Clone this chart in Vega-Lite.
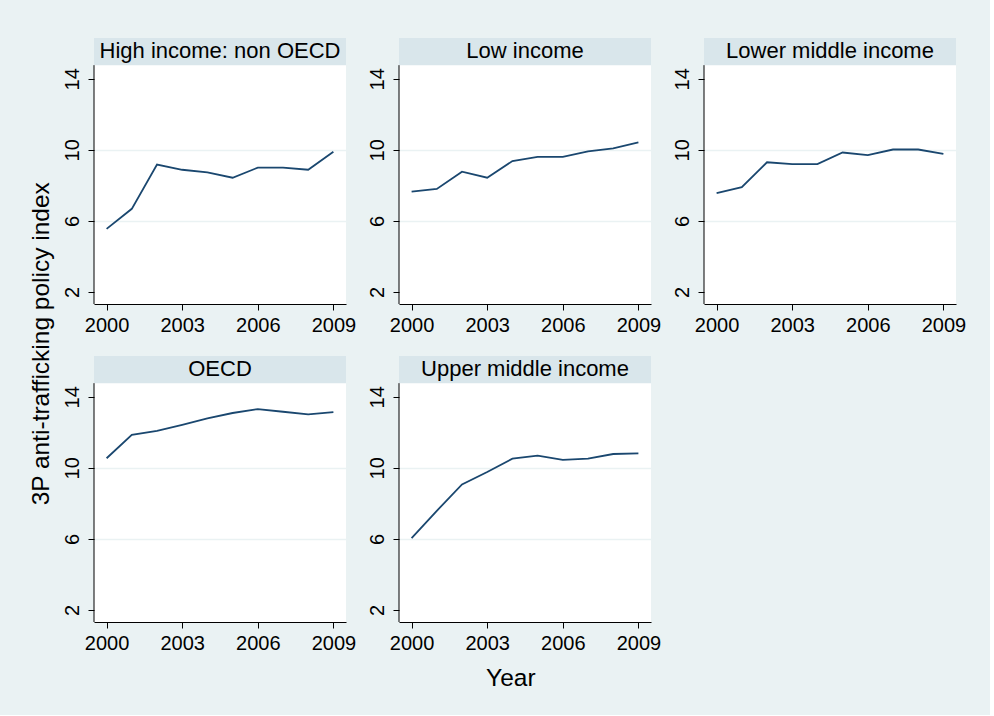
{
  "$schema": "https://vega.github.io/schema/vega-lite/v6.json",
  "background": "#EAF2F3",
  "padding": {"left": 28, "top": 37, "right": 24, "bottom": 24},
  "title": {"text": "3P anti-trafficking policy index", "orient": "left", "anchor": "middle", "fontSize": 24.5, "font": "Liberation Sans", "fontWeight": "normal", "color": "black", "offset": 8, "dx": 20},
  "data": {"values": [
    {"group": "High income: non OECD", "year": 2000, "value": 5.55},
    {"group": "High income: non OECD", "year": 2001, "value": 6.68},
    {"group": "High income: non OECD", "year": 2002, "value": 9.17},
    {"group": "High income: non OECD", "year": 2003, "value": 8.88},
    {"group": "High income: non OECD", "year": 2004, "value": 8.73},
    {"group": "High income: non OECD", "year": 2005, "value": 8.43},
    {"group": "High income: non OECD", "year": 2006, "value": 9.0},
    {"group": "High income: non OECD", "year": 2007, "value": 9.0},
    {"group": "High income: non OECD", "year": 2008, "value": 8.88},
    {"group": "High income: non OECD", "year": 2009, "value": 9.89},
    {"group": "Low income", "year": 2000, "value": 7.65},
    {"group": "Low income", "year": 2001, "value": 7.8},
    {"group": "Low income", "year": 2002, "value": 8.77},
    {"group": "Low income", "year": 2003, "value": 8.43},
    {"group": "Low income", "year": 2004, "value": 9.37},
    {"group": "Low income", "year": 2005, "value": 9.6},
    {"group": "Low income", "year": 2006, "value": 9.6},
    {"group": "Low income", "year": 2007, "value": 9.92},
    {"group": "Low income", "year": 2008, "value": 10.09},
    {"group": "Low income", "year": 2009, "value": 10.42},
    {"group": "Lower middle income", "year": 2000, "value": 7.57},
    {"group": "Lower middle income", "year": 2001, "value": 7.9},
    {"group": "Lower middle income", "year": 2002, "value": 9.3},
    {"group": "Lower middle income", "year": 2003, "value": 9.2},
    {"group": "Lower middle income", "year": 2004, "value": 9.2},
    {"group": "Lower middle income", "year": 2005, "value": 9.85},
    {"group": "Lower middle income", "year": 2006, "value": 9.7},
    {"group": "Lower middle income", "year": 2007, "value": 10.02},
    {"group": "Lower middle income", "year": 2008, "value": 10.02},
    {"group": "Lower middle income", "year": 2009, "value": 9.77},
    {"group": "OECD", "year": 2000, "value": 10.54},
    {"group": "OECD", "year": 2001, "value": 11.86},
    {"group": "OECD", "year": 2002, "value": 12.08},
    {"group": "OECD", "year": 2003, "value": 12.42},
    {"group": "OECD", "year": 2004, "value": 12.79},
    {"group": "OECD", "year": 2005, "value": 13.09},
    {"group": "OECD", "year": 2006, "value": 13.31},
    {"group": "OECD", "year": 2007, "value": 13.16},
    {"group": "OECD", "year": 2008, "value": 13.01},
    {"group": "OECD", "year": 2009, "value": 13.14},
    {"group": "Upper middle income", "year": 2000, "value": 6.04},
    {"group": "Upper middle income", "year": 2001, "value": 7.58},
    {"group": "Upper middle income", "year": 2002, "value": 9.07},
    {"group": "Upper middle income", "year": 2003, "value": 9.77},
    {"group": "Upper middle income", "year": 2004, "value": 10.52},
    {"group": "Upper middle income", "year": 2005, "value": 10.69},
    {"group": "Upper middle income", "year": 2006, "value": 10.45},
    {"group": "Upper middle income", "year": 2007, "value": 10.52},
    {"group": "Upper middle income", "year": 2008, "value": 10.78},
    {"group": "Upper middle income", "year": 2009, "value": 10.82}
  ]},
  "vconcat": [
    {
      "title": {"text": "Year", "orient": "bottom", "anchor": "middle", "fontSize": 24.5, "font": "Liberation Sans", "fontWeight": "normal", "color": "black", "offset": 14, "dx": -3},
      "facet": {"field": "group", "type": "nominal", "sort": null,
        "header": {"labels": false, "title": null, "labelExpr": "''", "labelFontSize": 1, "labelPadding": 0}},
      "columns": 3,
      "bounds": "flush",
      "spacing": {"column": 53, "row": 52},
      "resolve": {"axis": {"x": "independent", "y": "independent"}},
      "spec": {
        "width": 252,
        "height": 266,
        "layer": [
          {
            "transform": [{"filter": "datum.year == 2000"}],
            "mark": {"type": "rect", "fill": "#D9E6EB"},
            "encoding": {
              "x": {"datum": 1999.5},
              "x2": {"datum": 2009.5},
              "y": {"datum": 14.77},
              "y2": {"datum": 16.3}
            }
          },
          {
            "transform": [{"filter": "datum.year == 2000"}],
            "mark": {"type": "text", "font": "Liberation Sans", "fontSize": 22, "color": "black", "baseline": "middle", "align": "center"},
            "encoding": {
              "x": {"datum": 2004.5},
              "y": {"datum": 15.55},
              "text": {"field": "group"}
            }
          },
          {
            "transform": [{"filter": "datum.year == 2000"}],
            "mark": {"type": "rule", "color": "black", "strokeWidth": 1},
            "encoding": {
              "x": {"datum": 1999.5},
              "y": {"datum": 1.32},
              "y2": {"datum": 14.77}
            }
          },
          {
            "mark": {"type": "line", "color": "#1A476F", "strokeWidth": 1.8},
            "encoding": {
              "x": {"field": "year", "type": "quantitative",
                "scale": {"domain": [1999.5, 2009.5], "nice": false, "zero": false},
                "axis": {"title": null, "values": [2000, 2003, 2006, 2009], "format": "d", "grid": false,
                  "labelFont": "Liberation Sans", "labelFontSize": 20, "labelColor": "black", "labelPadding": 5,
                  "tickSize": 6, "tickColor": "black", "domainColor": "black", "labelFlush": false, "labelOverlap": false}},
              "y": {"field": "value", "type": "quantitative",
                "scale": {"domain": [1.32, 16.3], "nice": false, "zero": false},
                "axis": {"title": null, "values": [2, 6, 10, 14], "domain": false,
                  "grid": true, "gridColor": "#EAF2F3", "gridWidth": 1.5,
                  "gridOpacity": {"condition": {"test": "datum.value == 2 || datum.value == 14", "value": 0}, "value": 1},
                  "labelFont": "Liberation Sans", "labelFontSize": 20, "labelColor": "black", "labelAngle": -90, "labelPadding": 6,
                  "tickSize": 6, "tickColor": "black", "labelOverlap": false}}
            }
          }
        ]
      }
    }
  ],
  "config": {
    "view": {"stroke": null, "fill": "white"},
    "header": {"labels": false}
  }
}
